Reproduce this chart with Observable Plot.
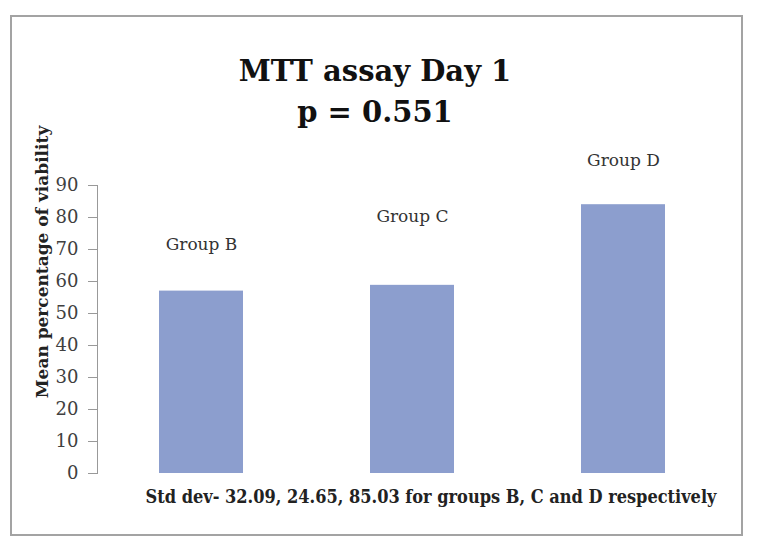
<!DOCTYPE html>
<html><head><meta charset="utf-8">
<script src="https://cdn.jsdelivr.net/npm/d3@7"></script>
<script src="https://cdn.jsdelivr.net/npm/@observablehq/plot@0.6"></script>
<style>
body{margin:0;background:#fff;width:758px;height:551px;position:relative;overflow:hidden;font-family:"DejaVu Serif",serif}
#frame{position:absolute;left:10px;top:15px;width:733px;height:521px;border:2px solid #a3a3a3;box-sizing:border-box}
#title{position:absolute;left:0;top:51px;width:750px;text-align:center;font-weight:bold;font-size:29px;line-height:41px;color:#111}
#ylabel{position:absolute;left:42px;top:262px;transform:translate(-50%,-50%) rotate(-90deg);white-space:nowrap;font-weight:bold;font-size:17px;color:#222}
#caption{position:absolute;left:431px;top:486px;transform:translateX(-50%);white-space:nowrap;font-family:"DejaVu Serif Condensed","DejaVu Serif",serif;font-weight:bold;font-size:18px;line-height:21px;color:#222}
#chart{position:absolute;left:0;top:0}
</style></head>
<body>
<div id="frame"></div>
<div id="chart"></div>
<div id="title">MTT assay Day 1<br>p = 0.551</div>
<div id="ylabel">Mean percentage of viability</div>
<div id="caption">Std dev- 32.09, 24.65, 85.03 for groups B, C and D respectively</div>
<script>
const groups = ["Group B", "Group C", "Group D"];
const values = [57, 58.8, 84];
const labelY = [71.6, 80.3, 97.8];
const yTicks = [0, 10, 20, 30, 40, 50, 60, 70, 80, 90];

const data = groups.map((g, i) => ({group: g, value: values[i], ly: labelY[i]}));

const chart = Plot.plot({
  width: 758,
  height: 551,
  marginTop: 185,
  marginBottom: 78,
  marginLeft: 97,
  marginRight: 30,
  style: {fontFamily: "DejaVu Serif", background: "transparent", overflow: "visible"},
  x: {domain: groups, paddingInner: 0.6, paddingOuter: 0.29, axis: null},
  y: {domain: [0, 90], axis: null},
  marks: [
    Plot.barY(data, {x: "group", y: "value", fill: "#8c9ece"}),
    Plot.axisY({ticks: yTicks, tickSize: 9, tickPadding: 10, fontSize: 18, stroke: "#999", fill: "#404040", label: null, tickFormat: d => String(d)}),
    Plot.frame({anchor: "left", stroke: "#999"}),
    Plot.text(data, {x: "group", y: "ly", text: "group", fontSize: 17, fill: "#333"})
  ]
});
document.getElementById("chart").appendChild(chart);
</script>
</body></html>
